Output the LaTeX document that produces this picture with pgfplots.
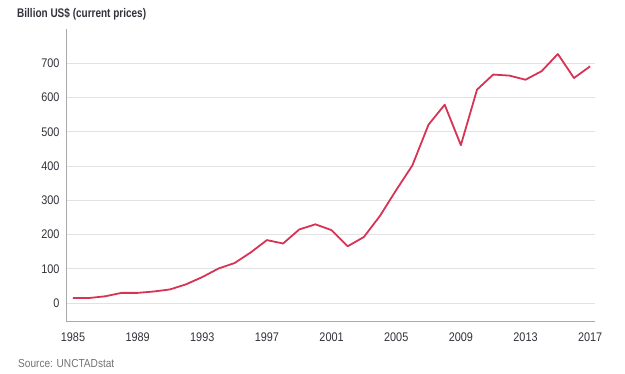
\documentclass[border=0pt]{standalone}
\usepackage{fontspec}
\setmainfont{Liberation Sans}[FakeStretch=0.87]
\newfontfamily\titlefont{Liberation Sans}[FakeStretch=0.8]
\usepackage{pgfplots}
\pgfplotsset{compat=1.18}
\definecolor{linec}{RGB}{214,52,84}
\definecolor{axc}{RGB}{170,170,170}
\definecolor{gridc}{RGB}{226,226,226}
\definecolor{txt}{RGB}{50,50,60}
\begin{document}
\begin{tikzpicture}[x=1pt,y=1pt]
\useasboundingbox (0,0) rectangle (625,374);
\begin{axis}[
  at={(67pt,52pt)}, anchor=south west,
  scale only axis, width=528pt, height=293pt,
  xmin=1984.63, xmax=2017.3,
  ymin=-55, ymax=800,
  axis x line*=bottom, axis y line*=left,
  axis line style={axc, line width=1pt},
  xtick={1985,1989,...,2017},
  ytick={0,100,...,700},
  xticklabel style={/pgf/number format/1000 sep={}},
  /pgf/number format/assume math mode=true,
  tick style={draw=none},
  ymajorgrids, grid style={gridc, line width=0.8pt},
  ticklabel style={font=\fontsize{12.5}{14}\selectfont, text=txt},
  xticklabel style={yshift=-7pt},
  yticklabel style={xshift=-4pt},
  clip=false,
]
\addplot[linec, line width=1.8pt, line join=round] coordinates {
(1985,15) (1986,15) (1987,20) (1988,30) (1989,30) (1990,34) (1991,40)
(1992,55) (1993,76) (1994,101) (1995,117) (1996,148) (1997,184) (1998,174)
(1999,215) (2000,230) (2001,213) (2002,166) (2003,193) (2004,255) (2005,330)
(2006,402) (2007,521) (2008,579) (2009,461) (2010,623) (2011,667) (2012,664)
(2013,652) (2014,677) (2015,727) (2016,657) (2017,691)
};
\end{axis}
\node[anchor=west, inner sep=0pt, text=txt, font=\fontsize{12.5}{14}\titlefont\bfseries] at (17,360) {Billion US\$ (current prices)};
\node[anchor=west, inner sep=0pt, text=black!55, font=\fontsize{11.6}{13}\selectfont] at (18,10) {Source: UNCTADstat};
\end{tikzpicture}
\end{document}
